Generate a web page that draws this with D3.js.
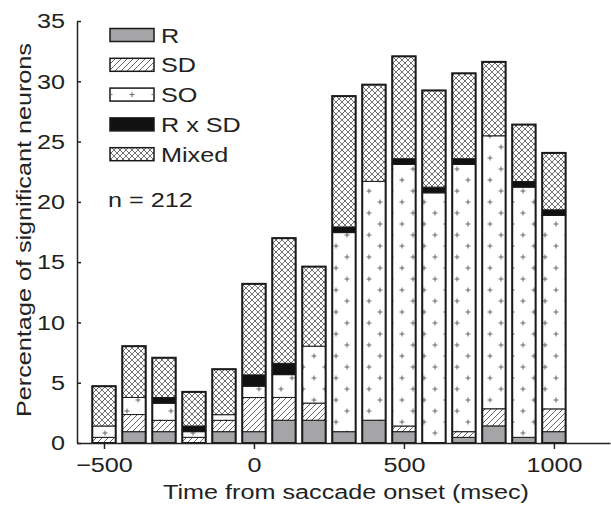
<!DOCTYPE html>
<html>
<head>
<meta charset="utf-8">
<script src="https://cdn.jsdelivr.net/npm/d3@7"></script>
<style>
  html, body { margin: 0; padding: 0; background: #fff; }
  svg { display: block; font-family: "Liberation Sans", Arial, sans-serif; }
</style>
</head>
<body>
<svg id="chart" width="611" height="511"></svg>
<script>
// ---- data (percentage of significant neurons, n = 212) ----
const times = [-500, -400, -300, -200, -100, 0, 100, 200, 300, 400, 500, 600, 700, 800, 900, 1000];
const seriesNames = ["R", "SD", "SO", "R x SD", "Mixed"];
const R     = [0, 0.94, 0.94, 0, 0.94, 0.94, 1.89, 1.89, 0.94, 1.89, 0.94, 0, 0.47, 1.42, 0.47, 0.94];
const SD    = [0.47, 1.42, 0.94, 0.47, 0.94, 2.83, 1.89, 1.42, 0, 0, 0.47, 0, 0.47, 1.42, 0, 1.89];
const SO    = [0.94, 1.42, 1.42, 0.47, 0.47, 0.94, 1.89, 4.72, 16.51, 19.81, 21.70, 20.75, 22.17, 22.64, 20.75, 16.04];
const RxSD  = [0, 0, 0.47, 0.47, 0, 0.94, 0.94, 0, 0.47, 0, 0.47, 0.47, 0.47, 0, 0.47, 0.47];
const Mixed = [3.30, 4.25, 3.30, 2.83, 3.77, 7.55, 10.38, 6.60, 10.85, 8.02, 8.49, 8.02, 7.08, 6.13, 4.72, 4.72];
const xTicks = [-500, 0, 500, 1000];
const yTicks = [0, 5, 10, 15, 20, 25, 30, 35];
const nLabel = "n = 212";
const xTitle = "Time from saccade onset (msec)";
const yTitle = "Percentage of significant neurons";

const seriesValues = [R, SD, SO, RxSD, Mixed];
const table = times.map((t, i) => {
  const row = { t };
  seriesNames.forEach((s, j) => row[s] = seriesValues[j][i]);
  return row;
});

const FS = 21;      // font size
const SX = 1.2;     // horizontal stretch of the lettering
const TXT = "#222";

const svg = d3.select("#chart");
const x = d3.scaleLinear().domain([-590, 1187]).range([77, 610]);
const y = d3.scaleLinear().domain([0, 35]).range([443, 21]);

// ---- patterns ----
const defs = svg.append("defs");
const pSD = defs.append("pattern").attr("id", "pSD").attr("patternUnits", "userSpaceOnUse")
  .attr("width", 6).attr("height", 6);
pSD.append("rect").attr("width", 6).attr("height", 6).attr("fill", "#fff");
pSD.append("path").attr("d", "M-1,7 L7,-1 M-4,4 L4,-4 M2,10 L10,2")
  .attr("stroke", "#555").attr("stroke-width", 0.9);

const pSO = defs.append("pattern").attr("id", "pSO").attr("patternUnits", "userSpaceOnUse")
  .attr("x", 0).attr("y", 0).attr("width", 22).attr("height", 22);
pSO.append("rect").attr("width", 22).attr("height", 22).attr("fill", "#fff");
pSO.append("path").attr("d", "M3.5,4 h5 M6,1.5 v5 M14.5,15 h5 M17,12.5 v5")
  .attr("stroke", "#666").attr("stroke-width", 1);

const pMx = defs.append("pattern").attr("id", "pMx").attr("patternUnits", "userSpaceOnUse")
  .attr("width", 6).attr("height", 6);
pMx.append("rect").attr("width", 6).attr("height", 6).attr("fill", "#fff");
pMx.append("path").attr("d", "M0,0 L6,6 M-3,3 L3,9 M3,-3 L9,3 M0,6 L6,0 M-3,3 L3,-3 M3,9 L9,3")
  .attr("stroke", "#707070").attr("stroke-width", 1);

const fills = {
  "R": "#a5a5a7",
  "SD": "url(#pSD)",
  "SO": "url(#pSO)",
  "R x SD": "#111",
  "Mixed": "url(#pMx)"
};

// ---- bars ----
const stack = d3.stack().keys(seriesNames)(table);
const bw = x(78) - x(0);
const gBars = svg.append("g");
stack.forEach(layer => {
  gBars.append("g").selectAll("rect").data(layer.filter(d => d[1] - d[0] > 0)).join("rect")
    .attr("x", d => x(d.data.t) - bw / 2)
    .attr("width", bw)
    .attr("y", d => y(d[1]))
    .attr("height", d => y(d[0]) - y(d[1]))
    .attr("fill", fills[layer.key])
    .attr("stroke", "#1a1a1a")
    .attr("stroke-width", 1);
});
const total = d => seriesNames.reduce((a, s) => a + d[s], 0);
gBars.append("g").selectAll("rect").data(table).join("rect")
  .attr("x", d => x(d.t) - bw / 2)
  .attr("width", bw)
  .attr("y", d => y(total(d)))
  .attr("height", d => y(0) - y(total(d)))
  .attr("fill", "none")
  .attr("stroke", "#1a1a1a")
  .attr("stroke-width", 2);

// ---- axes ----
const xAxis = d3.axisBottom(x).tickValues(xTicks).tickFormat(d3.format("d"))
  .tickSize(6).tickSizeOuter(0).tickPadding(8);
const gx = svg.append("g").attr("transform", `translate(0,${y(0)})`).call(xAxis);
gx.select(".domain").attr("stroke", "#222").attr("stroke-width", 1.5);
gx.selectAll(".tick line").attr("stroke", "#222").attr("stroke-width", 1.5);
gx.selectAll(".tick text").attr("font-size", FS).attr("fill", TXT)
  .attr("font-family", "Liberation Sans, Arial, sans-serif")
  .attr("transform", `scale(${SX},1)`);

const yAxis = d3.axisLeft(y).tickValues(yTicks).tickSize(-4).tickSizeOuter(0);
const gy = svg.append("g").attr("transform", `translate(${x.range()[0]},0)`).call(yAxis);
gy.select(".domain").attr("stroke", "#222").attr("stroke-width", 1.5);
gy.selectAll(".tick line").attr("stroke", "#222").attr("stroke-width", 1.5);
gy.selectAll(".tick text").attr("font-size", FS).attr("fill", TXT)
  .attr("font-family", "Liberation Sans, Arial, sans-serif")
  .attr("x", -12 / SX)
  .attr("transform", `scale(${SX},1)`);

// ---- titles ----
svg.append("text").attr("transform", `translate(346,499) scale(${SX},1)`).attr("text-anchor", "middle")
  .attr("font-size", FS).attr("fill", TXT).text(xTitle);
svg.append("text").attr("transform", `translate(31,230) rotate(-90) scale(${SX},1)`).attr("text-anchor", "middle")
  .attr("font-size", FS).attr("fill", TXT).text(yTitle);

// ---- legend ----
const leg = svg.append("g");
seriesNames.forEach((s, i) => {
  const cy = 35 + i * 29.8;
  const g = leg.append("g");
  g.append("rect").attr("x", 110).attr("y", cy - 6.5).attr("width", 44).attr("height", 13)
    .attr("fill", s === "SO" ? "#fff" : fills[s]).attr("stroke", "#1a1a1a").attr("stroke-width", 1.5);
  if (s === "SO") {
    g.append("path").attr("d", `M129.5,${cy} h5 M132,${cy - 2.5} v5 M110,${cy} h2.5 M151.5,${cy} h2.5`)
      .attr("stroke", "#666").attr("stroke-width", 1);
  }
  g.append("text").attr("transform", `translate(161,${cy + 7.5}) scale(${SX},1)`)
    .attr("font-size", FS).attr("fill", TXT).text(s);
});
svg.append("text").attr("transform", `translate(108,207) scale(${SX},1)`)
  .attr("font-size", FS).attr("fill", TXT).text(nLabel);
</script>
</body>
</html>
